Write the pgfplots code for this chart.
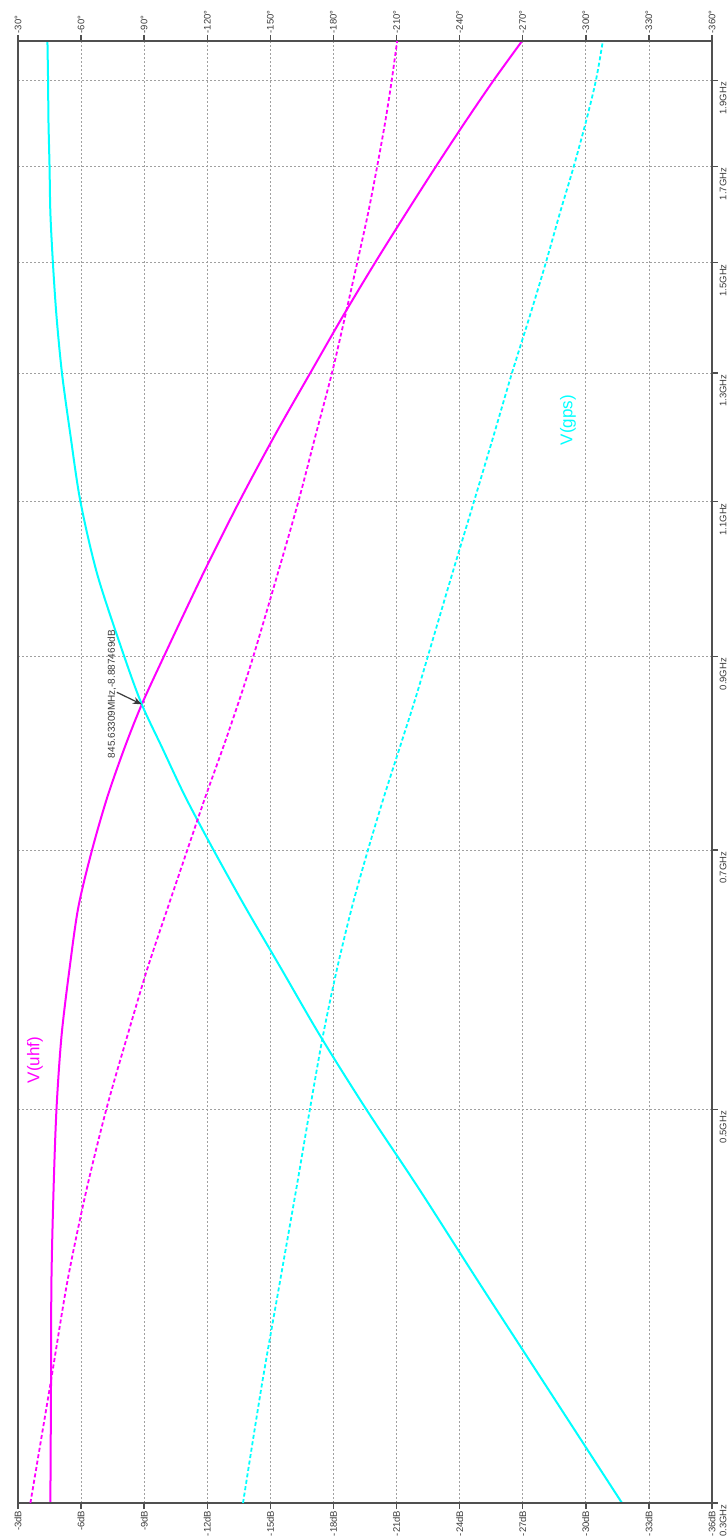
\documentclass[border=0pt]{standalone}
\usepackage{pgfplots}
\pgfplotsset{compat=1.18}
\usetikzlibrary{arrows.meta}
\usepackage{fontspec}
\setmainfont{Liberation Sans}
\definecolor{axgray}{HTML}{505050}
\definecolor{txtgray}{HTML}{3A3A3A}
\definecolor{gridgray}{HTML}{A0A0A0}
\definecolor{mag}{HTML}{FF00FF}
\definecolor{cy}{HTML}{00FFFF}
\begin{document}
\begin{tikzpicture}
\pgfplotsset{
  every axis/.append style={
    width=694pt, height=1462pt, scale only axis,
    at={(0pt,0pt)}, anchor=south west,
    ymode=log, ymin=0.3, ymax=2,
    axis line style={axgray, line width=2pt},
    tick style={axgray, line width=1.4pt},
    major tick length=6pt,
    tick align=outside,
    tick label style={font=\fontsize{9.5}{10}\selectfont, text=txtgray, inner sep=1.5pt},
    clip=true,
  }
}
\begin{axis}[
  xmin=-36, xmax=-3, x dir=reverse,
  xtick={-3,-6,-9,-12,-15,-18,-21,-24,-27,-30,-33,-36},
  xticklabels={-3dB,-6dB,-9dB,-12dB,-15dB,-18dB,-21dB,-24dB,-27dB,-30dB,-33dB,-36dB},
  xtick pos=left, xticklabel pos=left,
  xticklabel style={rotate=90, anchor=east},
  ytick={0.3,0.5,0.7,0.9,1.1,1.3,1.5,1.7,1.9},
  yticklabels={0.3GHz,0.5GHz,0.7GHz,0.9GHz,1.1GHz,1.3GHz,1.5GHz,1.7GHz,1.9GHz},
  ytick pos=right, yticklabel pos=right,
  yticklabel style={rotate=90, anchor=north east},
  minor ytick={},
  grid=major,
  major grid style={gridgray, line width=0.7pt, dash pattern=on 2pt off 2pt},
]
\addplot[mag, line width=2pt, smooth] coordinates {
(-4.54,0.3) (-4.57,0.35) (-4.59,0.4) (-4.69,0.45) (-4.83,0.5) (-5.07,0.55) (-5.45,0.6) (-5.87,0.65) (-6.52,0.7) (-7.25,0.75) (-8.08,0.8) (-8.887,0.84563) (-9.94,0.9) (-11.77,1.0) (-13.52,1.1) (-15.23,1.2) (-16.90,1.3) (-18.46,1.4) (-19.98,1.5) (-21.46,1.6) (-22.88,1.7) (-24.26,1.8) (-25.61,1.9) (-26.97,2.0)
};
\addplot[cy, line width=2pt, smooth] coordinates {
(-31.72,0.3) (-28.06,0.35) (-24.88,0.4) (-22.12,0.45) (-19.56,0.5) (-17.37,0.55) (-15.52,0.6) (-13.81,0.65) (-12.30,0.7) (-10.96,0.75) (-9.84,0.8) (-8.887,0.84563) (-8.05,0.9) (-6.78,1.0) (-5.97,1.1) (-5.49,1.2) (-5.09,1.3) (-4.83,1.4) (-4.66,1.5) (-4.54,1.6) (-4.50,1.7) (-4.45,1.8) (-4.43,1.9) (-4.40,2.0)
};
\node[rotate=90, text=mag, font=\fontsize{17}{17}\selectfont] at (axis cs:-3.81,0.533) {V(uhf)};
\node[rotate=90, text=cy, font=\fontsize{17}{17}\selectfont] at (axis cs:-29.15,1.223) {V(gps)};
\node[rotate=90, text=txtgray, font=\fontsize{10}{10}\selectfont, inner sep=0pt] at (axis cs:-7.47,0.857) {845.63309MHz,-8.887469dB};
\draw[txtgray, line width=1.2pt, -{Stealth[length=9pt,width=7pt]}] (axis cs:-7.70,0.8590) -- (axis cs:-8.887,0.84563);
\end{axis}
\begin{axis}[
  xmin=-360, xmax=-30, x dir=reverse,
  xtick={-30,-60,-90,-120,-150,-180,-210,-240,-270,-300,-330,-360},
  xticklabels={-30°,-60°,-90°,-120°,-150°,-180°,-210°,-240°,-270°,-300°,-330°,-360°},
  xtick pos=right, xticklabel pos=right,
  xticklabel style={rotate=90, anchor=west},
  hide y axis,
]
\addplot[mag, line width=1.8pt, smooth, dash pattern=on 4pt off 2.5pt] coordinates {
(-35.9,0.3) (-45.4,0.35) (-53.5,0.4) (-62.5,0.45) (-72.0,0.5) (-82.0,0.55) (-91.5,0.6) (-101.3,0.65) (-110.5,0.7) (-119.1,0.75) (-127.6,0.8) (-135.2,0.85) (-141.9,0.9) (-153.3,1.0) (-163.3,1.1) (-171.6,1.2) (-179.3,1.3) (-185.6,1.4) (-191.3,1.5) (-196.5,1.6) (-200.8,1.7) (-204.6,1.8) (-207.7,1.9) (-210.3,2.0)
};
\addplot[cy, line width=1.8pt, smooth, dash pattern=on 4pt off 2.5pt] coordinates {
(-137.0,0.3) (-146.0,0.35) (-154.6,0.4) (-162.2,0.45) (-168.8,0.5) (-175.0,0.55) (-181.7,0.6) (-188.8,0.65) (-196.4,0.7) (-204.0,0.75) (-211.6,0.8) (-218.7,0.85) (-224.9,0.9) (-236.3,1.0) (-246.8,1.1) (-256.3,1.2) (-264.9,1.3) (-273.4,1.4) (-281.0,1.5) (-287.7,1.6) (-294.3,1.7) (-300.0,1.8) (-304.8,1.9) (-308.1,2.0)
};
\end{axis}
\pgfresetboundingbox
\useasboundingbox (-18pt,-34pt) rectangle (709pt,1503pt);
\end{tikzpicture}
\end{document}
